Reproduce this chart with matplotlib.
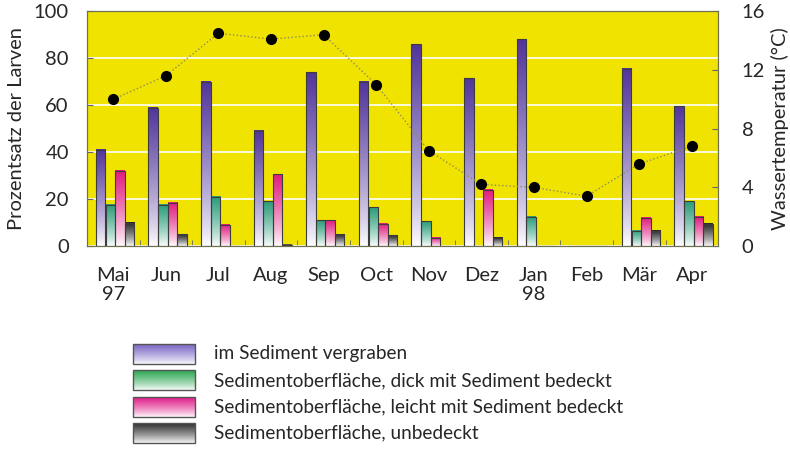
import numpy as np
import matplotlib.pyplot as plt
from matplotlib.colors import LinearSegmentedColormap

plt.rcParams['font.family'] = ['Lato', 'DejaVu Sans']

months = ['Mai\n97', 'Jun', 'Jul', 'Aug', 'Sep', 'Oct', 'Nov', 'Dez', 'Jan\n98', 'Feb', 'Mär', 'Apr']
vergraben = [41, 59, 70, 49, 74, 70, 86, 71.5, 88, 0, 75.5, 59.5]
dick = [17.5, 17.5, 21, 19, 11, 16.5, 10.5, 0, 12.5, 0, 6.5, 19]
leicht = [32, 18.5, 9, 30.5, 11, 9.5, 3.5, 24, 0, 0, 12, 12.5]
unbedeckt = [10, 5, 0, 0.5, 5, 4.5, 0, 3.5, 0, 0, 6.5, 9.5]
temperatur = [10.0, 11.6, 14.5, 14.1, 14.4, 11.0, 6.5, 4.2, 4.0, 3.4, 5.6, 6.8]

labels = ['im Sediment vergraben',
          'Sedimentoberfläche, dick mit Sediment bedeckt',
          'Sedimentoberfläche, leicht mit Sediment bedeckt',
          'Sedimentoberfläche, unbedeckt']
series = [vergraben, dick, leicht, unbedeckt]
colors = ['#52359a', '#2a9c78', '#e01c7e', '#262626']
legend_colors = ['#7a66c4', '#2aa550', '#e01c88', '#303030']
offsets = [-0.24, -0.055, 0.125, 0.305]
width = 0.18
text_color = '#262626'
grad = np.linspace(0, 1, 100).reshape(-1, 1) ** 0.8

fig = plt.figure(figsize=(7.9, 4.49), dpi=100)
ax = fig.add_axes([0.110, 0.452, 0.799, 0.523])
ax.set_facecolor('#f0e300')

x = np.arange(len(months))
for vals, col, off in zip(series, colors, offsets):
    cmap = LinearSegmentedColormap.from_list('g', ['white', col])
    for xi, h in zip(x, vals):
        if h > 0:
            ax.imshow(grad, extent=(xi + off - width / 2, xi + off + width / 2, 0, h),
                      origin='lower', cmap=cmap, aspect='auto', zorder=2, interpolation='bilinear')
    ax.bar(x + off, vals, width, facecolor='none', edgecolor='#3c3c3c', linewidth=0.8, zorder=3)

ax.set_xlim(-0.5, len(months) - 0.5)
ax.set_ylim(0, 100)
ax.set_yticks([0, 20, 40, 60, 80, 100])
ax.yaxis.grid(True, color='white', linewidth=1.2)
ax.set_axisbelow(True)
ax.set_xticks(x)
ax.set_xticklabels(months, fontsize=14.5, color=text_color, linespacing=1.15)
ax.set_xticks(x[:-1] + 0.5, minor=True)
ax.tick_params(axis='x', which='major', length=0, pad=15)
ax.tick_params(axis='x', which='minor', direction='in', length=4, color='#666666')
ax.tick_params(axis='y', direction='in', length=4, labelsize=14.5, labelcolor=text_color, pad=13, color='#666666')
ax.set_ylabel('Prozentsatz der Larven', fontsize=14.5, color=text_color, labelpad=6)
for s in ax.spines.values():
    s.set_color('#6e6e50')

ax2 = ax.twinx()
ax2.plot(x, temperatur, linestyle=':', color='#8c8c5a', linewidth=1.0, marker='o',
         markersize=7, markerfacecolor='black', markeredgecolor='black', zorder=5)
ax2.set_ylim(0, 16)
ax2.set_yticks([0, 4, 8, 12, 16])
ax2.tick_params(axis='y', direction='in', length=4, labelsize=14.5, labelcolor=text_color, pad=17, color='#666666')
ax2.set_ylabel('Wassertemperatur (°C)', fontsize=14.5, color=text_color, labelpad=4)
for s in ax2.spines.values():
    s.set_color('#6e6e50')

# legend drawn by hand, in figure pixels
leg = fig.add_axes([0, 0, 1, 1])
leg.axis('off')
for i, (lab, col) in enumerate(zip(labels, legend_colors)):
    top = 344 + i * 26.4
    cmap = LinearSegmentedColormap.from_list('l', ['white', col])
    leg.imshow(grad, extent=(133, 195, top + 20, top), origin='lower', cmap=cmap,
               aspect='auto', interpolation='bilinear')
    leg.add_patch(plt.Rectangle((133, top), 62, 20, fill=False, edgecolor='#555555', linewidth=1))
    leg.text(214, top + 10, lab, fontsize=13.7, color=text_color, va='center', ha='left')
leg.set_xlim(0, 790)
leg.set_ylim(449, 0)

fig.savefig('out.png', dpi=100)
